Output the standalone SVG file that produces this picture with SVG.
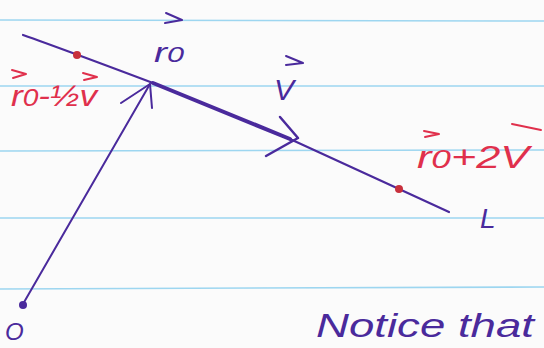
<svg xmlns="http://www.w3.org/2000/svg" width="544" height="348" viewBox="0 0 544 348">
<style>
.rule{stroke:#9dd6f0;stroke-width:1.6;fill:none}
.ink{stroke:#4a2a9c;fill:none;stroke-linecap:round;stroke-linejoin:round}
.red{stroke:#e0304c;fill:none;stroke-width:2;stroke-linecap:round;stroke-linejoin:round}
.pt{fill:#4a2a9c}
.rd{fill:#c8303c}
.tp{font-family:"Liberation Sans",sans-serif;font-style:italic;fill:#4a2a9c}
.tr{font-family:"Liberation Sans",sans-serif;font-style:italic;fill:#e0304c}
</style>
<rect width="544" height="348" fill="#fbfbfb"/>
<g id="paper">
<path class="rule" d="M0 20 L544 21"/>
<path class="rule" d="M0 86 L544 86"/>
<path class="rule" d="M0 151 L544 150"/>
<path class="rule" d="M0 218 L544 218"/>
<path class="rule" d="M0 289 L544 287"/>
</g>
<g id="connectors">
<path class="ink" stroke-width="2.2" d="M23 35 Q60 48 153 83"/>
<path class="ink" stroke-width="4" d="M153 83 L290 139"/>
<path class="ink" stroke-width="2.2" d="M290 139 L399 189 L449 212"/>
<path class="ink" stroke-width="2.5" d="M280 117 L298 138 L266 156"/>
<path class="ink" stroke-width="2" d="M23 304 L150 84"/>
<path class="ink" stroke-width="2" d="M121 103 L150 84 L152 108"/>
</g>
<g id="O"><circle class="pt" cx="23" cy="305" r="4"/><text class="tp" x="5" y="340" font-size="24">O</text></g>
<g id="p1"><circle class="rd" cx="77" cy="55" r="4"/></g>
<g id="p2"><circle class="rd" cx="399" cy="189" r="4"/></g>
<g id="r0label">
<path class="ink" stroke-width="2" d="M166 13 L182 20 L165 23"/>
<text class="tp" x="154" y="62" font-size="28" textLength="30" lengthAdjust="spacingAndGlyphs">r<tspan font-size="22">0</tspan></text>
</g>
<g id="Vlabel">
<path class="ink" stroke-width="2" d="M286 56 L303 63 L286 65"/>
<text class="tp" x="274" y="100" font-size="30">V</text>
</g>
<g id="r0mhalfv">
<path class="red" d="M12 70 L26 74 L13 78"/>
<path class="red" d="M83 73 L97 77 L84 80"/>
<text class="tr" x="11" y="106" font-size="30" textLength="86" lengthAdjust="spacingAndGlyphs">r<tspan font-size="24">0</tspan>-½v</text>
</g>
<g id="r0p2v">
<path class="red" d="M424 131 L439 134 L425 137"/>
<path class="red" d="M512 124 L541 130"/>
<text class="tr" x="417" y="168" font-size="32" textLength="112" lengthAdjust="spacingAndGlyphs">r<tspan font-size="26">0</tspan>+2V</text>
</g>
<g id="L"><text class="tp" x="480" y="228" font-size="28">L</text></g>
<g id="note"><text class="tp" x="316" y="337" font-size="34" textLength="218" lengthAdjust="spacingAndGlyphs">Notice  that</text></g>
</svg>
